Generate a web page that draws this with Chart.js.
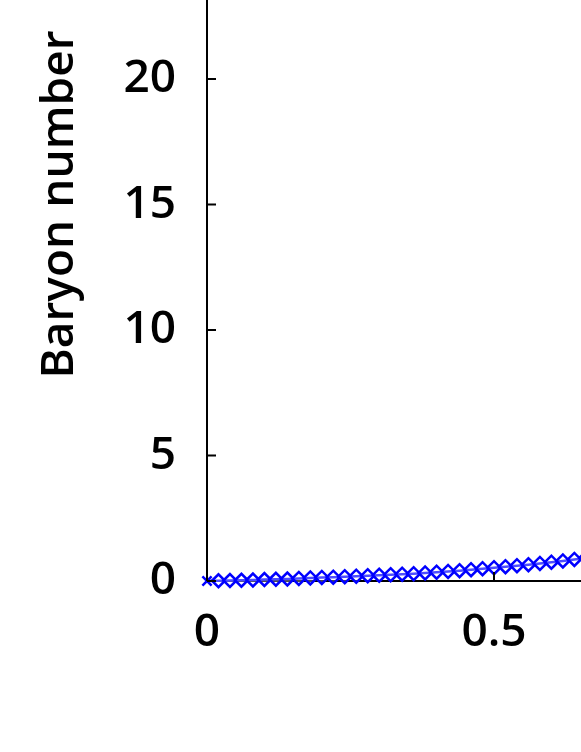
<!DOCTYPE html>
<html>
<head>
<meta charset="utf-8">
<script src="https://cdn.jsdelivr.net/npm/chart.js@4/dist/chart.umd.min.js"></script>
<style>
  html, body { margin: 0; padding: 0; background: #fff; overflow: hidden; }
  #view { position: relative; width: 581px; height: 752px; overflow: hidden; }
  /* the original plot runs past the top and right edges of the picture */
  #wrap { position: absolute; left: 0; top: -181px; width: 790px; height: 933px; }
</style>
</head>
<body>
<div id="view"><div id="wrap"><canvas id="baryonChart"></canvas></div></div>
<script>
// x values (0 .. 0.66, step 0.02) and baryon number
const xValues = [0, 0.02, 0.04, 0.06, 0.08, 0.10, 0.12, 0.14, 0.16, 0.18,
    0.20, 0.22, 0.24, 0.26, 0.28, 0.30, 0.32, 0.34, 0.36, 0.38,
    0.40, 0.42, 0.44, 0.46, 0.48, 0.50, 0.52, 0.54, 0.56, 0.58,
    0.60, 0.62, 0.64, 0.66];
const baryonNumber = [0, 0.01, 0.02, 0.03, 0.04, 0.06, 0.07, 0.08, 0.10, 0.12,
    0.14, 0.15, 0.17, 0.19, 0.21, 0.23, 0.25, 0.27, 0.29, 0.32,
    0.35, 0.38, 0.41, 0.45, 0.49, 0.53, 0.57, 0.61, 0.65, 0.70,
    0.75, 0.80, 0.86, 0.92];
const xTicks = [0, 0.5, 1];
const yTicks = [0, 5, 10, 15, 20, 25, 30];
const yTitle = 'Baryon number';

const points = xValues.map(function (x, i) {
    return {x: x, y: baryonNumber[i]};
});

const tickFont = {family: '"Open Sans", sans-serif', size: 46, weight: '600'};

// small inward tick marks, placed through the chart's own scales
const inwardTicks = {
    id: 'inwardTicks',
    afterDraw: function (chart) {
        const c = chart.ctx;
        const area = chart.chartArea;
        const xs = chart.scales.x;
        const ys = chart.scales.y;
        c.save();
        c.strokeStyle = '#000';
        c.lineWidth = 2;
        c.beginPath();
        xTicks.forEach(function (v) {
            const px = xs.getPixelForValue(v);
            c.moveTo(px, area.bottom);
            c.lineTo(px, area.bottom - 9);
        });
        yTicks.forEach(function (v) {
            const py = ys.getPixelForValue(v);
            c.moveTo(area.left, py);
            c.lineTo(area.left + 9, py);
        });
        c.stroke();
        c.restore();
    }
};

const baryonCanv = document.getElementById('baryonChart').getContext('2d');

const baryonChart = new Chart(baryonCanv, {
    type: 'line',
    data: {
        datasets: [{
            label: yTitle,
            data: points,
            borderColor: '#0000ff',
            borderWidth: 2.5,
            backgroundColor: 'rgba(0,0,0,0)',
            pointStyle: function (ctx) {
                return ctx.dataIndex === 0 ? 'crossRot' : 'rectRot';
            },
            pointRadius: 6.5,
            pointBorderWidth: 2.5,
            pointBorderColor: '#0000ff',
            pointBackgroundColor: 'rgba(255,255,255,0.3)',
            clip: false,
            fill: false
        }]
    },
    options: {
        responsive: true,
        maintainAspectRatio: false,
        animation: false,
        events: [],
        layout: {padding: 0},
        plugins: {
            legend: {display: false},
            tooltip: {enabled: false}
        },
        scales: {
            x: {
                type: 'linear',
                min: 0,
                max: 1,
                afterFit: function (scale) {
                    scale.height = 171;
                    scale.paddingLeft = 0;
                    scale.paddingRight = 0;
                },
                afterBuildTicks: function (scale) {
                    scale.ticks = xTicks.map(function (v) { return {value: v}; });
                },
                border: {display: true, color: '#000', width: 2},
                grid: {display: false, drawTicks: false},
                ticks: {
                    font: tickFont,
                    color: '#000',
                    padding: 24,
                    maxRotation: 0,
                    callback: function (v) { return String(v); }
                }
            },
            y: {
                type: 'linear',
                min: 0,
                max: 30,
                afterFit: function (scale) {
                    scale.width = 207;
                    scale.paddingTop = 0;
                    scale.paddingBottom = 0;
                },
                afterBuildTicks: function (scale) {
                    scale.ticks = yTicks.map(function (v) { return {value: v}; });
                },
                border: {display: true, color: '#000', width: 2},
                grid: {display: false, drawTicks: false},
                ticks: {
                    font: tickFont,
                    color: '#000',
                    padding: 31,
                    callback: function (v) { return String(v); }
                },
                title: {
                    display: true,
                    text: yTitle,
                    color: '#000',
                    font: {family: '"Open Sans", sans-serif', size: 46, weight: '600'},
                    padding: {top: 32, bottom: 0}
                }
            }
        }
    },
    plugins: [inwardTicks]
});
</script>
</body>
</html>
